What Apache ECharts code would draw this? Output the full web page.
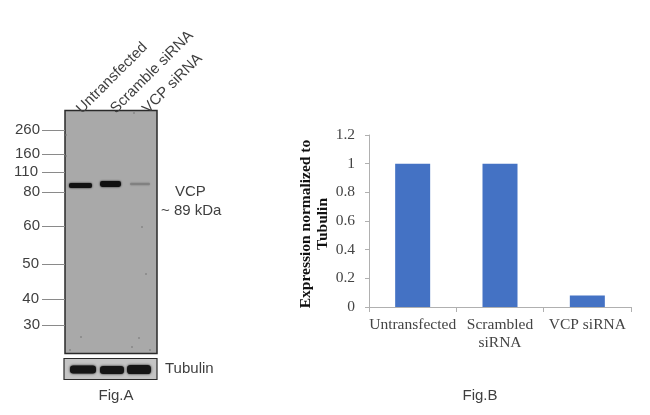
<!DOCTYPE html>
<html>
<head>
<meta charset="utf-8">
<style>html,body{margin:0;padding:0;background:#fff}#c{width:650px;height:415px}</style>
<script src="https://cdn.jsdelivr.net/npm/echarts@6/dist/echarts.min.js"></script>
</head>
<body>
<div id="c"></div>
<script>
var categories = ['Untransfected', 'Scrambled\nsiRNA', 'VCP siRNA'];
var expression = [1, 1, 0.08];
var yTicks = [0, 0.2, 0.4, 0.6, 0.8, 1, 1.2];
var markerLabels = ['260', '160', '110', '80', '60', '50', '40', '30'];
var markerY = [130, 154, 172, 192, 226, 264, 299, 325];
var markerRight = [40, 40, 38, 40, 40, 39, 39, 40];
var laneLabels = ['Untransfected', 'Scramble siRNA', 'VCP siRNA'];
var laneLabelStart = [[79, 111], [113, 111], [145, 111]];
var vcpBands = [[69, 92, 185.5, 5, 1], [100, 121, 184, 6, 1], [130, 150, 184, 2.5, 0.16]];
var tubulinBands = [[70, 96, 369.5, 8], [100, 124, 370, 8], [127, 151, 369.5, 9]];
var specks = [[134, 113], [66, 135], [66, 156], [146, 274], [142, 227], [81, 337], [139, 338], [132, 347], [150, 350], [70, 350]];

var chart = echarts.init(document.getElementById('c'), null, { renderer: 'canvas' });
var SANS = '"Liberation Sans", Arial, sans-serif';
var SERIF = '"Liberation Serif", "Times New Roman", serif';
var graphics = [];

function txt(t, x, y, size, align, extra) {
  var g = {
    type: 'text', x: x, y: y, z: 10,
    style: { text: t, x: 0, y: 0, fill: '#3f3f3f', font: size + 'px ' + SANS, textAlign: align, textVerticalAlign: 'middle' }
  };
  for (var k in extra) g[k] = extra[k];
  graphics.push(g);
}
function rect(x, y, w, h, fill, blur, opacity) {
  graphics.push({
    type: 'rect', z: 5,
    shape: { x: x, y: y, width: w, height: h, r: h / 2.5 },
    style: { fill: fill, shadowBlur: blur || 0, shadowColor: fill, opacity: opacity === undefined ? 1 : opacity }
  });
}

// membrane panels
graphics.push({ type: 'rect', z: 3, shape: { x: 65, y: 110.5, width: 92, height: 243 },
  style: { fill: '#a9a9a9', stroke: '#2a2a2a', lineWidth: 1.5 } });
graphics.push({ type: 'rect', z: 3, shape: { x: 64, y: 358.5, width: 93, height: 21 },
  style: { fill: '#c4c4c4', stroke: '#2a2a2a', lineWidth: 1.2 } });

vcpBands.forEach(function (b) {
  rect(b[0], b[2] - b[3] / 2, b[1] - b[0], b[3], '#111', 2, b[4]);
});
tubulinBands.forEach(function (b) {
  rect(b[0], b[2] - b[3] / 2, b[1] - b[0], b[3], '#151515', 2.5);
});
specks.forEach(function (s) {
  graphics.push({ type: 'circle', z: 5, shape: { cx: s[0], cy: s[1], r: 1 },
    style: { fill: '#777', opacity: 0.7 } });
});

// molecular weight markers
markerLabels.forEach(function (m, i) {
  txt(m, markerRight[i], markerY[i], 15, 'right');
  graphics.push({ type: 'line', z: 4, shape: { x1: 42, y1: markerY[i] + 0.5, x2: 65, y2: markerY[i] + 0.5 },
    style: { stroke: '#8a8a8a', lineWidth: 1 } });
});

// lane labels
laneLabels.forEach(function (l, i) {
  txt(l, laneLabelStart[i][0], laneLabelStart[i][1], 15, 'left', { rotation: Math.PI / 4 });
});

txt('VCP', 175, 192, 15, 'left');
txt('~ 89 kDa', 161, 211, 15, 'left');
txt('Tubulin', 165, 369, 15, 'left');
txt('Fig.A', 116, 396, 15, 'center');
txt('Fig.B', 480, 396, 15, 'center');

chart.setOption({
  animation: false,
  backgroundColor: '#fff',
  grid: { left: 369, right: 19, top: 135, bottom: 108, containLabel: false },
  xAxis: {
    type: 'category',
    data: categories,
    axisLine: { lineStyle: { color: '#b0b0b0', width: 1 } },
    axisTick: { show: true, length: 5, lineStyle: { color: '#b0b0b0' } },
    axisLabel: { fontFamily: SERIF, fontSize: 15.5, color: '#444', margin: 9, lineHeight: 18, interval: 0 }
  },
  yAxis: {
    type: 'value', min: 0, max: 1.2, interval: 0.2,
    name: 'Expression normalized to\nTubulin',
    nameLocation: 'middle', nameGap: 38, nameRotate: 90,
    nameTextStyle: { fontFamily: SERIF, fontWeight: 'bold', fontSize: 15.5, color: '#111', lineHeight: 17, padding: [0, 6, 0, 0] },
    axisLine: { show: true, lineStyle: { color: '#b0b0b0', width: 1 } },
    axisTick: { show: true, length: 4, lineStyle: { color: '#b0b0b0' } },
    splitLine: { show: false },
    axisLabel: { fontFamily: SERIF, fontSize: 15.5, color: '#444', margin: 14,
      customValues: yTicks, formatter: function (v) { return String(+v.toFixed(1)); } }
  },
  series: [{
    type: 'bar', data: expression, barWidth: 35,
    itemStyle: { color: '#4472C4' }
  }],
  graphic: { elements: graphics }
});
</script>
</body>
</html>
